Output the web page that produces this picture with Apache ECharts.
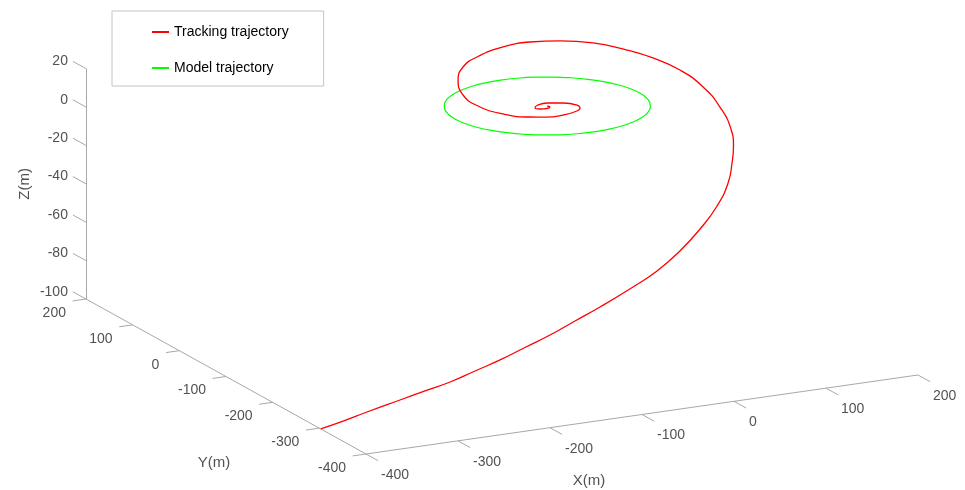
<!DOCTYPE html>
<html><head><meta charset="utf-8">
<script src="https://cdn.jsdelivr.net/npm/echarts@6/dist/echarts.min.js"></script>
<style>html,body{margin:0;padding:0;background:#fff}#c{width:965px;height:490px}</style>
</head><body><div id="c"></div>
<script>
// ---- data ----
const xTicks = [-400, -300, -200, -100, 0, 100, 200];
const yTicks = [-400, -300, -200, -100, 0, 100, 200];
const zTicks = [-100, -80, -60, -40, -20, 0, 20];
const xTitle = 'X(m)', yTitle = 'Y(m)', zTitle = 'Z(m)';
const seriesNames = ['Tracking trajectory', 'Model trajectory'];

const trackX = [-400,-375.7,-348.6,-313.3,-286.6,-260,-231.7,-203.4,-174.4,-145.3,
  -115.3,-85.4,-46.6,-15.9,17.2,50.8,86.4,116.8,138,156.7,
  170.6,183.4,188.2,184.2,170.7,151.7,124.4,91.5,59.5,25.4,
  -14.2,-41.9,-64.9,-81.1,-82.3,-68.7,-47,-29.5,-9.5,10.3,
  19.1,22.7,15.3,1.4,-9.6,-14.6,-11.6,0.4,0];
const trackY = [-303,-303,-300.8,-302,-303,-304.2,-301.9,-299.7,-295.9,-292.2,
  -286.6,-281.3,-275.5,-266.4,-250.3,-227.1,-193.4,-157.1,-123.7,-90,
  -57.2,-8.3,37.2,78.8,110.1,128.2,147.2,153.1,154.3,145,
  122.7,98,63.3,20.8,-13.8,-40.5,-55.8,-57.4,-52.4,-43.2,
  -32.4,-18.9,-3.6,3.4,3.1,-2.5,-7.2,-4.9,0];
const trackZ = [-100,-97.6,-95,-91,-88,-85,-81.5,-78,-74,-70,
  -65.5,-61,-54,-49,-43,-37,-32,-27,-22.5,-19.5,
  -16,-12,-8,-4.5,-1.5,1.5,4.5,7,8.5,9.5,
  10,10,9.5,8.5,7.5,6,5,4,3,2.5,
  2,1.5,1,1,0.5,0.3,0.2,0.1,0];

const modelX = [100,98.5,94.0,86.6,76.6,64.3,50.0,34.2,17.4,0,-17.4,-34.2,-50.0,-64.3,-76.6,-86.6,-94.0,-98.5,-100,-98.5,-94.0,-86.6,-76.6,-64.3,-50.0,-34.2,-17.4,0,17.4,34.2,50.0,64.3,76.6,86.6,94.0,98.5,100];
const modelY = [0,17.4,34.2,50.0,64.3,76.6,86.6,94.0,98.5,100,98.5,94.0,86.6,76.6,64.3,50.0,34.2,17.4,0,-17.4,-34.2,-50.0,-64.3,-76.6,-86.6,-94.0,-98.5,-100,-98.5,-94.0,-86.6,-76.6,-64.3,-50.0,-34.2,-17.4,0];
const modelZ = [0,0,0,0,0,0,0,0,0,0,0,0,0,0,0,0,0,0,0,0,0,0,0,0,0,0,0,0,0,0,0,0,0,0,0,0,0];

// ---- orthographic 3D view (screen placement) ----
const xMin = xTicks[0], xMax = xTicks[xTicks.length - 1];
const yMin = yTicks[0], yMax = yTicks[yTicks.length - 1];
const zMin = zTicks[0], zMax = zTicks[zTicks.length - 1];
const C0 = [366, 454];              // screen of (xMin, yMin, zMin)
const AX = [0.92, -0.1317];         // px per unit x
const AY = [-0.4667, -0.2583];      // px per unit y
const AZ = [0, -1.92];              // px per unit z
function proj(x, y, z) {
  const dx = x - xMin, dy = y - yMin, dz = z - zMin;
  return [C0[0] + AX[0]*dx + AY[0]*dy + AZ[0]*dz,
          C0[1] + AX[1]*dx + AY[1]*dy + AZ[1]*dz];
}

const FONT = "'Liberation Sans', Arial, Helvetica, sans-serif";
const TXT = '#262626';
const AXC = '#a8a8a8';

// axis lines & ticks
const segs = [];
segs.push({coords: [proj(xMin, yMin, zMin), proj(xMax, yMin, zMin)]});
segs.push({coords: [proj(xMin, yMin, zMin), proj(xMin, yMax, zMin)]});
segs.push({coords: [proj(xMin, yMax, zMin), proj(xMin, yMax, zMax)]});
xTicks.forEach(t => segs.push({coords: [proj(t, yMin, zMin), proj(t, yMin - 26, zMin)]}));
yTicks.forEach(t => segs.push({coords: [proj(xMin, t, zMin), proj(xMin - 14.5, t, zMin)]}));
zTicks.forEach(t => segs.push({coords: [proj(xMin, yMax, t), proj(xMin, yMax + 28, t)]}));

// tick labels
const labels = [];
function lab(p, text, align, off, extra) {
  labels.push({value: p, label: Object.assign({show: true, formatter: text, position: [0, 0],
    align: align, verticalAlign: 'middle', offset: off, fontSize: 14, color: TXT, fontFamily: FONT}, extra || {})});
}
xTicks.forEach(t => lab(proj(t, yMin, zMin), String(t), 'left', [15, 21]));
yTicks.forEach(t => lab(proj(xMin, t, zMin), String(t), 'right', [-20, 14]));
zTicks.forEach(t => lab(proj(xMin, yMax + 28, t), String(t), 'right', [-5, 0]));
// axis titles
lab(proj((xMin + xMax) / 2, yMin, zMin), xTitle, 'center', [-53, 66], {fontSize: 15});
lab(proj(xMin, (yMin + yMax) / 2, zMin), yTitle, 'center', [-12, 86], {fontSize: 15});
lab(proj(xMin, yMax, (zMin + zMax) / 2), zTitle, 'center', [0, -61], {fontSize: 15, rotate: 90});

const trackPts = trackX.map((v, i) => proj(v, trackY[i], trackZ[i]));
const modelPts = modelX.map((v, i) => proj(v, modelY[i], modelZ[i]));

const chart = echarts.init(document.getElementById('c'), null, {renderer: 'canvas'});
chart.setOption({
  animation: false,
  backgroundColor: '#ffffff',
  grid: {left: 0, right: 0, top: 0, bottom: 0},
  xAxis: {type: 'value', min: 0, max: 965, show: false},
  yAxis: {type: 'value', min: 0, max: 490, inverse: true, show: false},
  legend: {
    data: seriesNames, orient: 'vertical', left: 112, top: 11,
    icon: 'rect', itemWidth: 17, itemHeight: 2, itemGap: 22,
    padding: [14, 35, 11, 40], borderColor: '#c4c4c4', borderWidth: 1,
    textStyle: {fontSize: 14, color: '#000', fontFamily: FONT}
  },
  series: [
    {type: 'lines', coordinateSystem: 'cartesian2d', silent: true, z: 1,
     lineStyle: {color: AXC, width: 1, opacity: 1}, data: segs},
    {type: 'scatter', silent: true, symbolSize: 0, itemStyle: {color: 'transparent'}, z: 2, data: labels},
    {name: seriesNames[1], type: 'line', data: modelPts, showSymbol: false, smooth: 0.4, z: 3,
     color: '#00ff00', lineStyle: {color: '#00ff00', width: 1.2}},
    {name: seriesNames[0], type: 'line', data: trackPts, showSymbol: false, smooth: 0.5, z: 4,
     color: '#ff0000', lineStyle: {color: '#ff0000', width: 1.3}}
  ]
});
</script>
</body></html>
